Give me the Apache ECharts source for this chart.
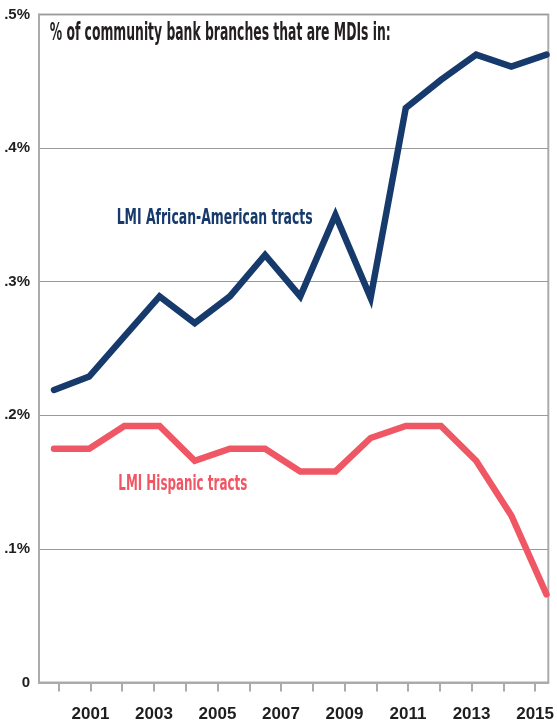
<!DOCTYPE html>
<html>
<head>
<meta charset="utf-8">
<script src="https://cdn.jsdelivr.net/npm/echarts@6/dist/echarts.min.js"></script>
<style>
html,body{margin:0;padding:0;background:#fff;}
#chart{width:557px;height:723px;}
</style>
</head>
<body>
<div id="chart"></div>
<script>
// ---- data ----
const categories = ['2001','2002','2003','2004','2005','2006','2007','2008','2009','2010','2011','2012','2013','2014','2015'];
const africanAmerican = [0.219, 0.229, 0.259, 0.289, 0.269, 0.289, 0.320, 0.289, 0.350, 0.288, 0.430, 0.451, 0.470, 0.461, 0.470];
const hispanic = [0.175, 0.175, 0.192, 0.192, 0.166, 0.175, 0.175, 0.158, 0.158, 0.183, 0.192, 0.192, 0.166, 0.125, 0.066];
const xTickYears = [2000,2001,2002,2003,2004,2005,2006,2007,2008,2009,2010,2011,2012,2013,2014,2015];
const xLabelYears = [2001,2003,2005,2007,2009,2011,2013,2015];
const yTickLabels = {0:'0', 1:'.1%', 2:'.2%', 3:'.3%', 4:'.4%', 5:'.5%'};
const titleText = '% of community bank branches that are MDIs in:';
const seriesNames = ['LMI African-American tracts', 'LMI Hispanic tracts'];

// ---- styling ----
const NAVY = '#173a6c';
const PINK = '#f05765';
const TEXT_FONT = '"DejaVu Sans Condensed", "Liberation Sans", sans-serif';
const AXIS_FONT = '"Liberation Sans", Arial, sans-serif';
const GRID = {left: 39, right: 1, top: 14.5, bottom: 40.5};

const chart = echarts.init(document.getElementById('chart'));

const measureCtx = document.createElement('canvas').getContext('2d');
function condensedText(text, x, yMid, size, color, targetWidth) {
  measureCtx.font = 'bold ' + size + 'px ' + TEXT_FONT;
  const w = measureCtx.measureText(text).width;
  const s = targetWidth / w;
  return {
    type: 'text', x: x, y: yMid, scaleX: s, originX: 0, originY: 0, z: 100,
    style: {text: text, fill: color, fontFamily: TEXT_FONT, fontWeight: 'bold', fontSize: size,
            textAlign: 'left', textVerticalAlign: 'middle'}
  };
}

const option = {
  animation: false,
  backgroundColor: '#fff',
  grid: [
    Object.assign({show: true, borderColor: '#ababab', borderWidth: 2, backgroundColor: 'transparent'}, GRID),
    {left: 54, right: 10.5, top: GRID.top, bottom: GRID.bottom}
  ],
  xAxis: [
    {
      gridIndex: 0, type: 'value', min: 1999.38, max: 2015.416,
      axisLine: {show: true, lineStyle: {color: '#ababab', width: 2}},
      splitLine: {show: false},
      axisTick: {show: true, length: 9, customValues: xTickYears, lineStyle: {color: '#ababab', width: 2}},
      axisLabel: {show: true, customValues: xLabelYears, margin: 23, color: '#1e1e1e',
                  fontFamily: AXIS_FONT, fontWeight: 'bold', fontSize: 17, formatter: v => String(v)}
    },
    {
      gridIndex: 1, type: 'category', data: categories, boundaryGap: false, show: false
    }
  ],
  yAxis: [
    {
      gridIndex: 0, type: 'value', min: 0, max: 0.5, interval: 0.1,
      axisLine: {show: true, lineStyle: {color: '#ababab', width: 2}},
      axisTick: {show: false},
      splitLine: {show: true, lineStyle: {color: '#9a9a9a', width: 1}},
      axisLabel: {margin: 9, color: '#1e1e1e', fontFamily: AXIS_FONT, fontWeight: 'bold', fontSize: 15,
                  formatter: v => yTickLabels[Math.round(v * 10)]}
    },
    {gridIndex: 1, type: 'value', min: 0, max: 0.5, show: false}
  ],
  series: [
    {
      name: seriesNames[0], type: 'line', xAxisIndex: 1, yAxisIndex: 1, data: africanAmerican,
      showSymbol: false, symbol: 'none', z: 5,
      lineStyle: {color: NAVY, width: 6.5, cap: 'round', join: 'miter'}
    },
    {
      name: seriesNames[1], type: 'line', xAxisIndex: 1, yAxisIndex: 1, data: hispanic,
      showSymbol: false, symbol: 'none', z: 4,
      lineStyle: {color: PINK, width: 6.5, cap: 'round', join: 'miter'}
    }
  ],
  graphic: [
    condensedText(titleText, 49.7, 33, 25, '#231f20', 341),
    condensedText(seriesNames[0], 116.7, 219, 21, NAVY, 196),
    condensedText(seriesNames[1], 118.3, 484.5, 21, PINK, 129)
  ]
};
chart.setOption(option);
</script>
</body>
</html>
